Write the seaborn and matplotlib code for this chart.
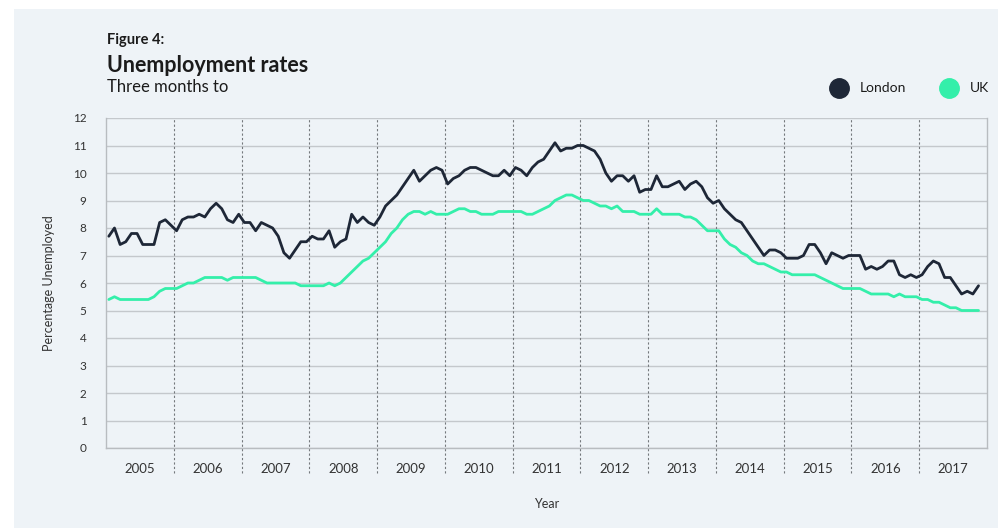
import matplotlib
matplotlib.use("Agg")
import matplotlib.pyplot as plt
from matplotlib.patches import Rectangle
from matplotlib.lines import Line2D
import seaborn as sns
import pandas as pd
import numpy as np

years = [str(y) for y in range(2005, 2018)]

# monthly rates, three months to Jan 2005 ... Nov 2017
london = [
    7.7, 8.0, 7.4, 7.5, 7.8, 7.8, 7.4, 7.4, 7.4, 8.2, 8.3, 8.1,
    7.9, 8.3, 8.4, 8.4, 8.5, 8.4, 8.7, 8.9, 8.7, 8.3, 8.2, 8.5,
    8.2, 8.2, 7.9, 8.2, 8.1, 8.0, 7.7, 7.1, 6.9, 7.2, 7.5, 7.5,
    7.7, 7.6, 7.6, 7.9, 7.3, 7.5, 7.6, 8.5, 8.2, 8.4, 8.2, 8.1,
    8.4, 8.8, 9.0, 9.2, 9.5, 9.8, 10.1, 9.7, 9.9, 10.1, 10.2, 10.1,
    9.6, 9.8, 9.9, 10.1, 10.2, 10.2, 10.1, 10.0, 9.9, 9.9, 10.1, 9.9,
    10.2, 10.1, 9.9, 10.2, 10.4, 10.5, 10.8, 11.1, 10.8, 10.9, 10.9, 11.0,
    11.0, 10.9, 10.8, 10.5, 10.0, 9.7, 9.9, 9.9, 9.7, 9.9, 9.3, 9.4,
    9.4, 9.9, 9.5, 9.5, 9.6, 9.7, 9.4, 9.6, 9.7, 9.5, 9.1, 8.9,
    9.0, 8.7, 8.5, 8.3, 8.2, 7.9, 7.6, 7.3, 7.0, 7.2, 7.2, 7.1,
    6.9, 6.9, 6.9, 7.0, 7.4, 7.4, 7.1, 6.7, 7.1, 7.0, 6.9, 7.0,
    7.0, 7.0, 6.5, 6.6, 6.5, 6.6, 6.8, 6.8, 6.3, 6.2, 6.3, 6.2,
    6.3, 6.6, 6.8, 6.7, 6.2, 6.2, 5.9, 5.6, 5.7, 5.6, 5.9,
]
uk = [
    5.4, 5.5, 5.4, 5.4, 5.4, 5.4, 5.4, 5.4, 5.5, 5.7, 5.8, 5.8,
    5.8, 5.9, 6.0, 6.0, 6.1, 6.2, 6.2, 6.2, 6.2, 6.1, 6.2, 6.2,
    6.2, 6.2, 6.2, 6.1, 6.0, 6.0, 6.0, 6.0, 6.0, 6.0, 5.9, 5.9,
    5.9, 5.9, 5.9, 6.0, 5.9, 6.0, 6.2, 6.4, 6.6, 6.8, 6.9, 7.1,
    7.3, 7.5, 7.8, 8.0, 8.3, 8.5, 8.6, 8.6, 8.5, 8.6, 8.5, 8.5,
    8.5, 8.6, 8.7, 8.7, 8.6, 8.6, 8.5, 8.5, 8.5, 8.6, 8.6, 8.6,
    8.6, 8.6, 8.5, 8.5, 8.6, 8.7, 8.8, 9.0, 9.1, 9.2, 9.2, 9.1,
    9.0, 9.0, 8.9, 8.8, 8.8, 8.7, 8.8, 8.6, 8.6, 8.6, 8.5, 8.5,
    8.5, 8.7, 8.5, 8.5, 8.5, 8.5, 8.4, 8.4, 8.3, 8.1, 7.9, 7.9,
    7.9, 7.6, 7.4, 7.3, 7.1, 7.0, 6.8, 6.7, 6.7, 6.6, 6.5, 6.4,
    6.4, 6.3, 6.3, 6.3, 6.3, 6.3, 6.2, 6.1, 6.0, 5.9, 5.8, 5.8,
    5.8, 5.8, 5.7, 5.6, 5.6, 5.6, 5.6, 5.5, 5.6, 5.5, 5.5, 5.5,
    5.4, 5.4, 5.3, 5.3, 5.2, 5.1, 5.1, 5.0, 5.0, 5.0, 5.0,
]

LONDON_COL = "#1e2737"
UK_COL = "#34efaa"
PANEL = "#eef3f7"
TXT = "#1b1b1b"

months = np.arange(len(london)) + 0.5
df = pd.DataFrame({
    "month": np.concatenate([months, months]),
    "rate": london + uk,
    "region": ["London"] * len(london) + ["UK"] * len(uk),
})

sns.set_theme(style="white")
plt.rcParams["font.family"] = ["Lato", "DejaVu Sans"]

fig = plt.figure(figsize=(9.98, 5.28), dpi=100)
fig.patch.set_facecolor("white")
fig.add_artist(Rectangle((14 / 998, 0), 1 - 14 / 998, 1 - 9 / 528,
                         transform=fig.transFigure, facecolor=PANEL,
                         edgecolor="none", zorder=-10))

ax = fig.add_axes([106 / 998, 1 - 448 / 528, 881 / 998, 330 / 528])
ax.set_facecolor(PANEL)

sns.lineplot(data=df, x="month", y="rate", hue="region",
             palette={"London": LONDON_COL, "UK": UK_COL},
             linewidth=2.0, legend=False, ax=ax, zorder=3)

ax.set_xlim(0, 156)
ax.set_ylim(0, 12)
ax.set_yticks(range(0, 13))
ax.set_yticklabels([str(v) for v in range(0, 13)], fontsize=8.5, color="#333333")
ax.set_xticks([6 + 12 * k for k in range(len(years))])
ax.set_xticklabels(years, fontsize=9.5, color="#333333")
ax.tick_params(axis="both", length=0)
ax.tick_params(axis="y", pad=14)
ax.tick_params(axis="x", pad=11)

ax.grid(axis="y", color="#c4c8cc", linewidth=1.0)
ax.grid(axis="x", visible=False)
for s in ["left", "right", "bottom"]:
    ax.spines[s].set_color("#b8bcc0")
    ax.spines[s].set_linewidth(1.0)
ax.spines["top"].set_visible(False)

# dotted year separators, running down through the tick labels
for k in range(1, len(years)):
    ax.axvline(12 * k, ymin=-0.076, ymax=1, color="#74787c",
               linewidth=0.8, linestyle=(0, (2, 2)), clip_on=False, zorder=2)

ax.set_xlabel("Year", fontsize=9, color="#333333", labelpad=16)
ax.set_ylabel("Percentage Unemployed", fontsize=9, color="#333333", labelpad=13)

fig.text(107 / 998, 1 - 40 / 528, "Figure 4:", fontsize=10.5, fontweight="bold",
         color=TXT, va="center", ha="left")
fig.text(107 / 998, 1 - 65 / 528, "Unemployment rates", fontsize=15.5,
         fontweight="bold", color=TXT, va="center", ha="left")
fig.text(107 / 998, 1 - 87 / 528, "Three months to", fontsize=12,
         color=TXT, va="center", ha="left")

# legend
for cx, col, lab in [(839, LONDON_COL, "London"), (949, UK_COL, "UK")]:
    fig.add_artist(Line2D([cx / 998], [1 - 88 / 528], marker="o", markersize=14,
                          color=col, linestyle="none",
                          transform=fig.transFigure))
    fig.text((cx + 21) / 998, 1 - 88 / 528, lab, fontsize=10, color=TXT,
             va="center", ha="left")

fig.savefig("out.png", dpi=100, facecolor=fig.get_facecolor())
